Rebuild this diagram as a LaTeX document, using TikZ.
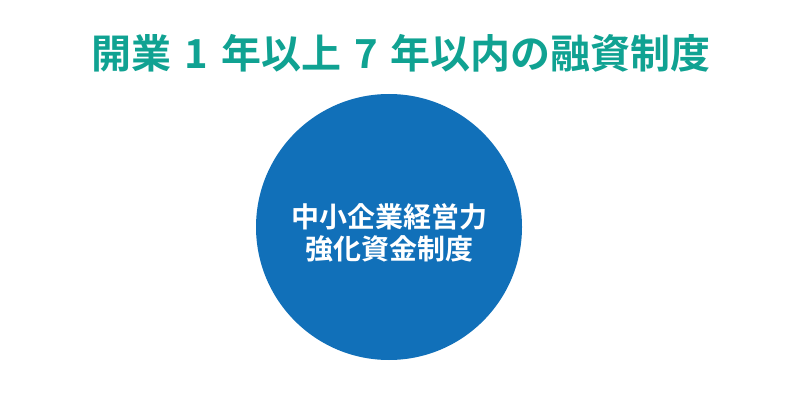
\documentclass[tikz,border=0pt]{standalone}
\usepackage{fontspec}
\usepackage{xcolor}
\newfontfamily\cjk{Noto Sans CJK JP}[BoldFont={Noto Sans CJK JP Bold}]
\definecolor{titleteal}{RGB}{16,162,146}
\definecolor{circleblue}{RGB}{17,112,185}
\newcommand{\numgap}{\hspace{13pt}}
\tikzset{
	titletext/.style={font=\cjk\bfseries\fontsize{40}{44}\selectfont,text=titleteal,inner sep=0pt},
	circletext/.style={font=\cjk\bfseries\fontsize{28}{31.5}\selectfont,text=white,align=center,inner sep=0pt}
}

\begin{document}
\begin{tikzpicture}[x=1pt,y=-1pt]
	\useasboundingbox (0,0) rectangle (800,406);
	\coordinate (O) at (389,227);
	
	\fill[circleblue] (O) circle (133);
	\node[titletext] (title) at (401,53) {開業\numgap 1\numgap 年以上\numgap 7\numgap 年以内の融資制度};
	\node[circletext] (name) at (389,233) {中小企業経営力\\強化資金制度};
\end{tikzpicture}
\end{document}
